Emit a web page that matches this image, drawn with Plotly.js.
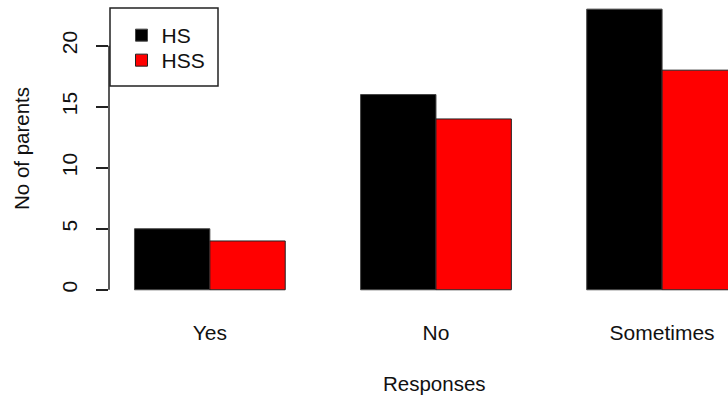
<!DOCTYPE html>
<html>
<head>
<meta charset="utf-8">
<script src="https://cdn.plot.ly/plotly-3.0.1.min.js"></script>
<style>
html,body{margin:0;padding:0;overflow:hidden;background:#fff;}
#chart{width:800px;height:399px;}
</style>
</head>
<body>
<div id="chart"></div>
<script>
var categories = ["Yes", "No", "Sometimes"];
var seriesNames = ["HS", "HSS"];
var hsValues = [5, 16, 23];
var hssValues = [4, 14, 18];
var yTickVals = [0, 5, 10, 15, 20];
var yTickText = ["0", "5", "10", "15", "20"];

var FONT = "Liberation Sans, Arial, sans-serif";
var ML = 109, MR = 40, W = 800, H = 399, MT = 0, MB = 98;
var PW = W - ML - MR, PH = H - MT - MB;
function px(x) { return (x - ML) / PW; }
function py(y) { return (PH - y) / PH; }

var traces = [
  {type: "bar", name: seriesNames[0], x: categories, y: hsValues, legend: "legend",
   marker: {color: "#000000", line: {color: "#444444", width: 1}}},
  {type: "bar", name: seriesNames[1], x: categories, y: hssValues, legend: "legend2",
   marker: {color: "#ff0000", line: {color: "#222222", width: 1}}}
];

var legendStyle = function (yc) {
  return {x: px(121.5), y: py(yc), xanchor: "left", yanchor: "middle",
          borderwidth: 0, bgcolor: "rgba(0,0,0,0)",
          font: {family: FONT, size: 21, color: "#111111"}};
};

var layout = {
  width: W, height: H,
  margin: {l: ML, r: MR, t: MT, b: MB, pad: 0},
  paper_bgcolor: "#ffffff", plot_bgcolor: "#ffffff",
  font: {family: FONT, size: 21, color: "#111111"},
  barmode: "group", bargap: 0.3333, bargroupgap: 0,
  showlegend: true,
  legend: legendStyle(35.5),
  legend2: legendStyle(60.5),
  xaxis: {type: "category", range: [-0.446, 2.433], showline: false, showgrid: false,
          zeroline: false, ticks: "", tickfont: {size: 21}, ticklabelstandoff: 17,
          fixedrange: true},
  yaxis: {range: [-0.92, 23.75], showline: false, showgrid: false, zeroline: false,
          ticks: "outside", ticklen: 12, tickwidth: 1.5, tickcolor: "#222222",
          tickvals: yTickVals, ticktext: yTickText, tickangle: -90, ticklabelstandoff: 11,
          tickfont: {size: 21}, fixedrange: true},
  shapes: [
    {type: "line", xref: "paper", yref: "y", x0: 0, x1: 0, y0: yTickVals[0], y1: yTickVals[yTickVals.length - 1],
     line: {color: "#222222", width: 1.5}},
    {type: "rect", xref: "paper", yref: "paper", x0: px(110), x1: px(218), y0: py(86), y1: py(8),
     line: {color: "#222222", width: 1.5}, fillcolor: "#ffffff", layer: "below"}
  ],
  annotations: [
    {text: "No of parents", xref: "paper", yref: "paper", x: px(21), y: py(149),
     xanchor: "center", yanchor: "middle", textangle: -90, showarrow: false,
     font: {family: FONT, size: 20.5, color: "#111111"}},
    {text: "Responses", xref: "paper", yref: "paper", x: 0.5, y: py(383),
     xanchor: "center", yanchor: "middle", showarrow: false,
     font: {family: FONT, size: 20.5, color: "#111111"}}
  ]
};

Plotly.newPlot("chart", traces, layout, {displayModeBar: false, staticPlot: true});
</script>
</body>
</html>
